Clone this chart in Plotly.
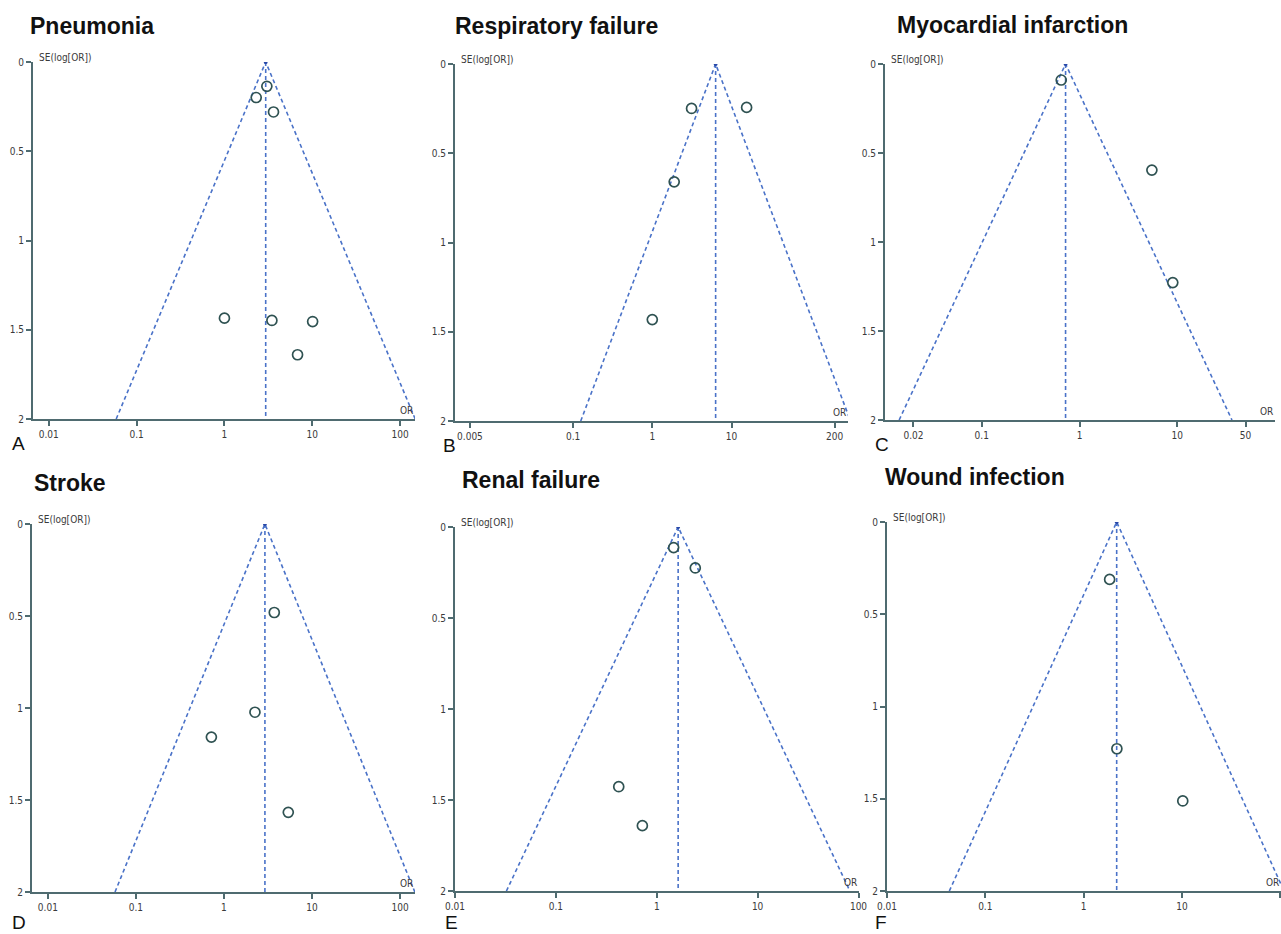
import plotly.graph_objects as go
import math

W, H = 1281, 934

# ---------------- data ----------------
titles = ["Pneumonia", "Respiratory failure", "Myocardial infarction",
          "Stroke", "Renal failure", "Wound infection"]
letters = ["A", "B", "C", "D", "E", "F"]

pneu_or = [3.04, 2.30, 3.62, 1.00, 3.47, 10.1, 6.8]
pneu_se = [0.136, 0.199, 0.280, 1.435, 1.448, 1.454, 1.640]

resp_or = [3.13, 15.5, 1.89, 1.00]
resp_se = [0.249, 0.243, 0.660, 1.432]

mi_or = [0.65, 5.5, 9.0]
mi_se = [0.090, 0.596, 1.228]

stroke_or = [3.73, 2.25, 0.72, 5.38]
stroke_se = [0.481, 1.023, 1.158, 1.567]

renal_or = [1.47, 2.41, 0.42, 0.72]
renal_se = [0.113, 0.225, 1.427, 1.641]

wound_or = [1.84, 2.18, 10.2]
wound_se = [0.311, 1.229, 1.512]

pooled_or = [2.95, 6.3, 0.72, 2.92, 1.63, 2.17]

x_tickvals = [
    [0.01, 0.1, 1, 10, 100],
    [0.005, 0.1, 1, 10, 200],
    [0.02, 0.1, 1, 10, 50],
    [0.01, 0.1, 1, 10, 100],
    [0.01, 0.1, 1, 10, 100],
    [0.01, 0.1, 1, 10, 100],
]
x_ticktext = [
    ["0.01", "0.1", "1", "10", "100"],
    ["0.005", "0.1", "1", "10", "200"],
    ["0.02", "0.1", "1", "10", "50"],
    ["0.01", "0.1", "1", "10", "100"],
    ["0.01", "0.1", "1", "10", "100"],
    ["0.01", "0.1", "1", "10", "100"],
]
y_tickvals = [0, 0.5, 1, 1.5, 2]
y_ticktext = ["0", "0.5", "1", "1.5", "2"]
se_max = 2

# ---------------- layout geometry (pixels) ----------------
panels = [
    dict(px=(33, 415), xr=(-2.18, 2.17), py=(62, 419)),
    dict(px=(455, 848), xr=(-2.49, 2.47), py=(64, 421)),
    dict(px=(885, 1275), xr=(-1.99, 2.0), py=(64, 420)),
    dict(px=(32, 415), xr=(-2.18, 2.17), py=(524, 892)),
    dict(px=(455, 859), xr=(-2.0, 2.005), py=(527, 891)),
    dict(px=(887, 1281), xr=(-2.0, 2.008), py=(522, 891)),
]
title_pos = [(28, 26), (453, 26), (895, 25), (32, 483), (460, 480), (883, 477)]
letter_pos = [(18, 443), (449, 445), (882, 444), (19, 922), (451, 922), (881, 922)]

ors = [pneu_or, resp_or, mi_or, stroke_or, renal_or, wound_or]
ses = [pneu_se, resp_se, mi_se, stroke_se, renal_se, wound_se]

AXIS_COL = "#4f6b70"
DASH_COL = "#4a72c8"
PT_COL = "#2f5252"
TICK_FONT = dict(family="Liberation Sans Narrow, DejaVu Sans Condensed, Arial Narrow, sans-serif",
                 size=10, color="#3a3a3a")

fig = go.Figure()
annotations = []

for i in range(6):
    xa = "x" if i == 0 else f"x{i+1}"
    ya = "y" if i == 0 else f"y{i+1}"
    p = panels[i]
    c = pooled_or[i]
    # funnel limits (95% pseudo confidence) at SE = 0 and SE = max
    lo = math.exp(math.log(c) - 1.96 * se_max)
    hi = math.exp(math.log(c) + 1.96 * se_max)
    fig.add_trace(go.Scatter(x=[lo, c, hi], y=[se_max, 0, se_max], mode="lines",
                             line=dict(color=DASH_COL, width=1.6, dash="4px,3px"),
                             xaxis=xa, yaxis=ya, showlegend=False, hoverinfo="skip"))
    fig.add_trace(go.Scatter(x=[c, c], y=[0, se_max], mode="lines",
                             line=dict(color=DASH_COL, width=1.6, dash="4px,3px"),
                             xaxis=xa, yaxis=ya, showlegend=False, hoverinfo="skip"))
    fig.add_trace(go.Scatter(x=[c], y=[0], mode="markers",
                             marker=dict(color="#2848a8", size=4),
                             xaxis=xa, yaxis=ya, showlegend=False, hoverinfo="skip"))
    fig.add_trace(go.Scatter(x=ors[i], y=ses[i], mode="markers",
                             marker=dict(symbol="circle-open", size=10, color=PT_COL,
                                         line=dict(color=PT_COL, width=1.7)),
                             xaxis=xa, yaxis=ya, showlegend=False))

    xkey = "xaxis" if i == 0 else f"xaxis{i+1}"
    ykey = "yaxis" if i == 0 else f"yaxis{i+1}"
    fig.layout[xkey] = dict(
        type="log", range=list(p["xr"]),
        domain=[p["px"][0] / W, p["px"][1] / W],
        anchor=ya, showgrid=False, zeroline=False, automargin=False,
        showline=True, linecolor=AXIS_COL, linewidth=2,
        ticks="outside", ticklen=5, tickwidth=1.5, tickcolor=AXIS_COL,
        tickmode="array", tickvals=x_tickvals[i], ticktext=x_ticktext[i],
        tickfont=TICK_FONT, fixedrange=True,
    )
    fig.layout[ykey] = dict(
        range=[2, 0], domain=[1 - p["py"][1] / H, 1 - p["py"][0] / H],
        anchor=xa, showgrid=False, zeroline=False, automargin=False,
        showline=True, linecolor=AXIS_COL, linewidth=2,
        ticks="outside", ticklen=5, tickwidth=1.5, tickcolor=AXIS_COL,
        tickmode="array", tickvals=y_tickvals, ticktext=y_ticktext,
        tickfont=TICK_FONT, fixedrange=True,
    )

    annotations.append(dict(text="SE(log[OR])", xref=f"{xa} domain", yref=ya,
                            x=0, y=0, xanchor="left", yanchor="bottom",
                            xshift=4, yshift=-3, showarrow=False,
                            font=TICK_FONT))
    annotations.append(dict(text="OR", xref=f"{xa} domain", yref=ya,
                            x=1, y=2, xanchor="right", yanchor="bottom",
                            xshift=0, yshift=1, showarrow=False,
                            font=TICK_FONT))
    tx, ty = title_pos[i]
    annotations.append(dict(text=f"<b>{titles[i]}</b>", xref="paper", yref="paper",
                            x=tx / W, y=1 - ty / H, xanchor="left", yanchor="middle",
                            showarrow=False,
                            font=dict(family="Liberation Sans, Arial, sans-serif",
                                      size=23, color="#111111")))
    lx, ly = letter_pos[i]
    annotations.append(dict(text=letters[i], xref="paper", yref="paper",
                            x=lx / W, y=1 - ly / H, xanchor="center", yanchor="middle",
                            showarrow=False,
                            font=dict(family="Liberation Sans, Arial, sans-serif",
                                      size=19, color="#111111")))

fig.update_layout(
    width=W, height=H, margin=dict(l=0, r=0, t=0, b=0),
    paper_bgcolor="white", plot_bgcolor="white",
    annotations=annotations, showlegend=False,
)

fig.write_html("out.html",
               config=dict(displayModeBar=False),
               post_script="document.body.style.margin='0px';"
                           "document.body.style.overflow='hidden';")
